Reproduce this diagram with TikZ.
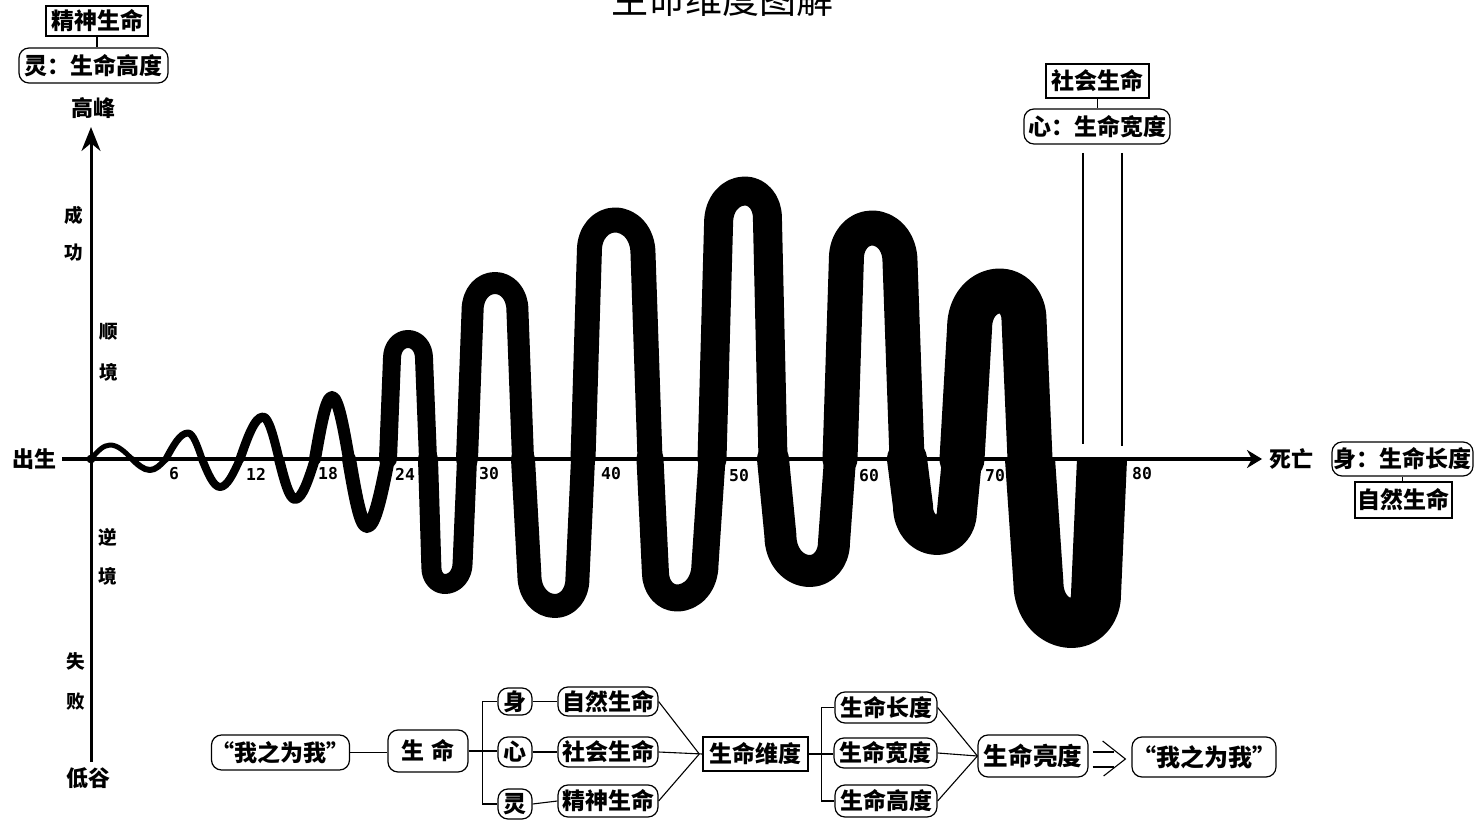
\documentclass[tikz,border=0pt]{standalone}
\usepackage{fontspec}
\setmainfont{Noto Sans CJK SC}
\newfontfamily\numfont{DejaVu Sans Mono}
\usetikzlibrary{calc,arrows.meta}
\begin{document}
\begin{tikzpicture}[x=0.5pt,y=-0.5pt,
  rbox/.style={draw, rounded corners=5pt, line width=0.6pt, inner sep=0pt, font=\bfseries\fontsize{11.5pt}{12pt}\selectfont},
  sbox/.style={draw, line width=0.7pt, inner sep=0pt, font=\bfseries\fontsize{11.5pt}{12pt}\selectfont},
  big/.style={inner sep=0pt, font=\bfseries\fontsize{11pt}{12pt}\selectfont},
  ax/.style={inner sep=0pt, font=\bfseries\fontsize{9.3pt}{10pt}\selectfont},
  num/.style={inner sep=0pt, font=\numfont\bfseries\fontsize{8.2pt}{9pt}\selectfont},
  conn/.style={line width=0.55pt},
  thin/.style={line width=0.6pt}
]
\useasboundingbox (0,0) rectangle (1476,822);

% title
\node[inner sep=0pt, anchor=base, font=\fontsize{18.5pt}{20pt}\selectfont] (title) at (722,14) {生命维度图解};

% axes
\coordinate (O) at (91,459);
\coordinate (axT) at (91,127);
\coordinate (axB) at (91,762);
\coordinate (axL) at (62,459);
\coordinate (axR) at (1262,459);
\draw[line width=1.5pt, -{Stealth[length=12pt,width=9.5pt]}] (axB) -- (axT);
\draw[line width=2pt, -{Stealth[length=7.5pt,width=9pt]}] (axL) -- (axR);
\fill (O) circle (2.2pt);

% wave: small sinusoidal part
\foreach \xa/\xe/\ye/\xb/\w in {91/110/445/132/5, 132/150/470/166/6, 166/188/433/202/7, 202/220/487/240/8, 240/263/417/279/9, 279/295/499/315/10, 315/332/397/349/12, 349/367/526/388/14}{
  \draw[line width=\w*0.5pt, line cap=round, line join=round]
    (\xa,459) .. controls ({\xa+0.326*(\xe-\xa)},{459+0.512*(\ye-459)}) and ({\xa+0.638*(\xe-\xa)},\ye) .. (\xe,\ye)
    .. controls ({\xe+0.362*(\xb-\xe)},\ye) and ({\xe+0.674*(\xb-\xe)},{459+0.512*(\ye-459)}) .. (\xb,459);
}
% wave: tall U-shaped part
\foreach \xa/\xe/\ye/\xb/\w in {388/408/339/428/18, 428/445/584/467/20, 467/495/283/523/22, 523/555/606/583/24, 583/615/220/650/25, 650/677/598/712/27, 712/745/191/773/29, 773/810/571/840/32, 840/872/228/907/35, 907/937/535/962/40, 962/1000/291/1030/45}{
  \pgfmathsetmacro\ra{0.8*(\xe-\xa)}
  \pgfmathsetmacro\rb{0.8*(\xb-\xe)}
  \pgfmathsetmacro\sg{(\ye<459)*2-1}
  \draw[line width=\w*0.5pt, line cap=round, line join=round]
    (\xa,459) -- ({\xe-\ra},{\ye+\sg*1.2*\ra})
    .. controls ({\xe-\ra},{\ye+\sg*0.5*\ra}) and ({\xe-0.552*\ra},\ye) .. (\xe,\ye)
    .. controls ({\xe+0.552*\rb},\ye) and ({\xe+\rb},{\ye+\sg*0.5*\rb}) .. ({\xe+\rb},{\ye+\sg*1.2*\rb})
    -- (\xb,459);
}
% last trough ending flat on the axis
\foreach \xa/\xe/\ye/\xb/\w in {1030/1072/623/1102/50}{
  \pgfmathsetmacro\ra{0.8*(\xe-\xa)}
  \pgfmathsetmacro\rb{0.8*(\xb-\xe)}
  \draw[line width=\w*0.5pt, line cap=butt, line join=round]
    (\xa,459) -- ({\xe-\ra},{\ye-1.2*\ra})
    .. controls ({\xe-\ra},{\ye-0.5*\ra}) and ({\xe-0.552*\ra},\ye) .. (\xe,\ye)
    .. controls ({\xe+0.552*\rb},\ye) and ({\xe+\rb},{\ye-0.5*\rb}) .. ({\xe+\rb},{\ye-1.2*\rb})
    -- (\xb,459);
}

% thin vertical lines
\coordinate (v1t) at (1083,153); \coordinate (v1b) at (1083,444);
\coordinate (v2t) at (1122,153); \coordinate (v2b) at (1122,446);
\draw[thin] (v1t) -- (v1b);
\draw[thin] (v2t) -- (v2b);

% tick labels
\node[num] (t6) at (174,474) {6};
\node[num] (t12) at (256,474) {12};
\node[num] (t18) at (328,474) {18};
\node[num] (t24) at (405,474) {24};
\node[num] (t30) at (489,474) {30};
\node[num] (t40) at (611,474) {40};
\node[num] (t50) at (739,476) {50};
\node[num] (t60) at (869,476) {60};
\node[num] (t70) at (995,476) {70};
\node[num] (t80) at (1142,474) {80};

% axis labels
\node[big] (chusheng) at (34,459) {出生};
\node[big] (siwang) at (1291,459) {死亡};
\node[big] (gaofeng) at (93,108) {高峰};
\node[big] (digu) at (88,778) {低谷};
\node[ax] (cheng) at (74,215) {成};
\node[ax] (gong) at (74,253) {功};
\node[ax] (shun) at (109,332) {顺};
\node[ax] (jing1) at (109,372) {境};
\node[ax] (ni) at (108,537) {逆};
\node[ax] (jing2) at (108,576) {境};
\node[ax] (shi) at (76,661) {失};
\node[ax] (bai) at (76,702) {败};

% top-left labels
\node[sbox, minimum width=51pt, minimum height=15pt] (jsTop) at (97,21) {精神生命};
\node[rbox, minimum width=74.5pt, minimum height=17.5pt] (lingTop) at (93.5,65.5) {灵：生命高度};
\draw[conn] (jsTop.south) -- (jsTop.south |- lingTop.north);

% top-right labels
\node[sbox, minimum width=51.5pt, minimum height=17pt] (shTop) at (1097.5,81) {社会生命};
\node[rbox, minimum width=73pt, minimum height=17.5pt] (xinTop) at (1097,126.5) {心：生命宽度};
\draw[conn] (shTop.south) -- (shTop.south |- xinTop.north);

% right labels
\node[rbox, minimum width=70.5pt, minimum height=17pt] (shenR) at (1402.5,459) {身：生命长度};
\node[sbox, minimum width=48.5pt, minimum height=18pt] (ziranR) at (1403.5,500) {自然生命};
\draw[conn] (shenR.south) -- (shenR.south |- ziranR.north);

% bottom diagram
\node[rbox, minimum width=67.5pt, minimum height=17.5pt] (wo1) at (280.5,752.5) {“我之为我”};
\node[rbox, minimum width=40pt, minimum height=21pt] (sm) at (428,751) {生\,\,命};
\node[rbox, minimum width=17pt, minimum height=13.5pt] (shen2) at (515,701.5) {身};
\node[rbox, minimum width=17pt, minimum height=15pt] (xin2) at (515,752) {心};
\node[rbox, minimum width=17pt, minimum height=15pt] (ling2) at (515,804) {灵};
\node[rbox, minimum width=50pt, minimum height=14.5pt] (ziran2) at (608,701.5) {自然生命};
\node[rbox, minimum width=50pt, minimum height=15pt] (shehui2) at (608,752) {社会生命};
\node[rbox, minimum width=50pt, minimum height=16pt] (jingshen2) at (608,801) {精神生命};
\node[sbox, minimum width=52.5pt, minimum height=17pt] (weidu) at (755.5,754) {生命维度};
\node[rbox, minimum width=51pt, minimum height=15.5pt] (changdu) at (886,707.5) {生命长度};
\node[rbox, minimum width=51.5pt, minimum height=15pt] (kuandu) at (885.5,753) {生命宽度};
\node[rbox, minimum width=51pt, minimum height=16pt] (gaodu) at (886,801) {生命高度};
\node[rbox, minimum width=55pt, minimum height=21pt, font=\bfseries\fontsize{12.3pt}{13pt}\selectfont] (liang) at (1033,756) {生命亮度};
\node[rbox, minimum width=71pt, minimum height=20pt, font=\bfseries\fontsize{12pt}{13pt}\selectfont] (wo2) at (1204,757) {“我之为我”};

\draw[conn] (wo1.east) -- (wo1.east -| sm.west);
\draw[conn] (sm.east) -- (sm.east -| xin2.west);
\draw[conn] (shen2.west) -- ++(-15,0) |- (ling2.west);
\draw[conn] (shen2.east) -- (ziran2.west);
\draw[conn] (xin2.east) -- (shehui2.west);
\draw[conn] (ling2.east) -- (jingshen2.west);
\coordinate (c1) at ($(weidu.west)+(-3,0)$);
\draw[conn] (ziran2.east) -- (c1);
\draw[conn] (shehui2.east) -- (weidu.west);
\draw[conn] (jingshen2.east) -- (c1);
\draw[conn] (weidu.east) -- (weidu.east -| kuandu.west);
\draw[conn] (changdu.west) -- ++(-13,0) |- (gaodu.west);
\draw[conn] (changdu.east) -- (liang.west);
\draw[conn] (kuandu.east) -- (liang.west);
\draw[conn] (gaodu.east) -- (liang.west);
\draw[conn] ($(liang.east)+(4,-4)$) -- ++(21,0);
\draw[conn] ($(liang.east)+(4,11)$) -- ++(21,0);
\draw[conn] ($(liang.east)+(14,-15)$) -- ($(wo2.west)+(-6,2)$) -- ($(liang.east)+(15,20)$);
\end{tikzpicture}
\end{document}
